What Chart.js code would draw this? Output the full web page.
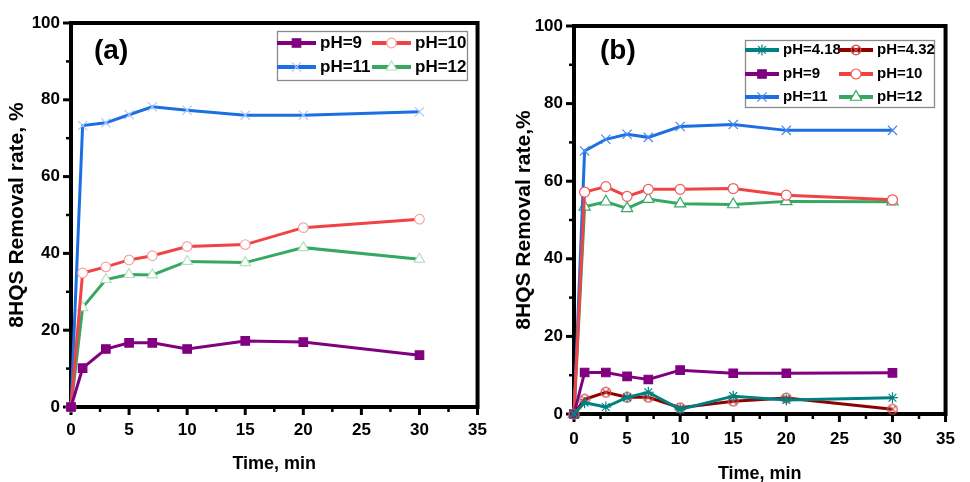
<!DOCTYPE html>
<html>
<head>
<meta charset="utf-8">
<script src="https://cdn.jsdelivr.net/npm/chart.js@4.4.1/dist/chart.umd.min.js"></script>
<style>
  html, body { margin: 0; padding: 0; background: #fff; }
  body { width: 970px; height: 482px; position: relative; overflow: hidden; }
  .panel { position: absolute; top: 0; height: 482px; }
  #wrap-a { left: 0; width: 500px; }
  #wrap-b { left: 485px; width: 485px; }
</style>
</head>
<body>
<div class="panel" id="wrap-a"><canvas id="chart-a" width="500" height="482"></canvas></div>
<div class="panel" id="wrap-b"><canvas id="chart-b" width="485" height="482"></canvas></div>
<script>
"use strict";

// ── Data ───────────────────────────────────────────────────
const times = [0, 1, 3, 5, 7, 10, 15, 20, 30];          // min
const xTickValues = [0, 5, 10, 15, 20, 25, 30, 35];
const yTickValues = [0, 20, 40, 60, 80, 100];

// panel (a)
const ph9A  = [0, 10.1, 15.1, 16.7, 16.7, 15.1, 17.2, 16.9, 13.5];
const ph10A = [0, 34.9, 36.5, 38.3, 39.4, 41.8, 42.3, 46.7, 48.9];
const ph11A = [0, 73.3, 74.0, 76.1, 78.2, 77.3, 76.0, 76.0, 76.9];
const ph12A = [0, 25.9, 33.2, 34.5, 34.4, 37.9, 37.6, 41.5, 38.5];

// panel (b)
const ph418B = [0, 2.9, 1.8, 4.3, 5.6, 1.2, 4.6, 3.6, 4.2];
const ph432B = [0, 3.8, 5.6, 4.3, 4.3, 1.6, 3.3, 4.1, 1.2];
const ph9B   = [0, 10.7, 10.7, 9.7, 8.9, 11.3, 10.5, 10.5, 10.6];
const ph10B  = [0, 57.2, 58.6, 56.1, 57.9, 57.9, 58.1, 56.4, 55.2];
const ph11B  = [0, 67.8, 70.8, 72.1, 71.3, 74.1, 74.6, 73.1, 73.1];
const ph12B  = [0, 53.4, 54.7, 53.0, 55.4, 54.2, 54.0, 54.8, 54.7];

const FONT = '"Liberation Sans", Arial, sans-serif';

// ── Helpers ────────────────────────────────────────────────
/** Small canvas marker: open circle with an x inside (pH=4.32). */
function circleCross(color) {
  const c = document.createElement("canvas");
  c.width = 12; c.height = 12;
  const g = c.getContext("2d");
  g.strokeStyle = color; g.lineWidth = 1.3;
  g.beginPath(); g.arc(6, 6, 4.8, 0, Math.PI * 2); g.stroke();
  g.beginPath();
  g.moveTo(2.6, 2.6); g.lineTo(9.4, 9.4);
  g.moveTo(9.4, 2.6); g.lineTo(2.6, 9.4);
  g.stroke();
  return c;
}

/** One line dataset built from the shared time axis. */
function series(label, values, color, marker) {
  return Object.assign({
    label,
    data: times.map((t, i) => ({ x: t, y: values[i] })),
    borderColor: color,
    backgroundColor: color,
    borderWidth: 3,
    tension: 0,
    clip: false,
    pointBorderWidth: 1.2,
  }, marker);
}

// ── Plugins: frame + ticks, boxed legend + panel tag ───────
const framePlugin = {
  id: "frame",
  beforeDatasetsDraw(chart) {
    const { ctx, chartArea: a, scales } = chart;
    const sx = scales.x, sy = scales.y;
    const seg = (x1, y1, x2, y2) => { ctx.beginPath(); ctx.moveTo(x1, y1); ctx.lineTo(x2, y2); ctx.stroke(); };
    ctx.save();
    ctx.strokeStyle = "#000";
    // major ticks (outward)
    ctx.lineWidth = 3;
    sx.ticks.forEach((t) => { const p = sx.getPixelForValue(t.value); seg(p, a.bottom, p, a.bottom + 8); });
    sy.ticks.forEach((t) => { const p = sy.getPixelForValue(t.value); seg(a.left, p, a.left - 8, p); });
    // minor ticks halfway between majors
    ctx.lineWidth = 2.5;
    sx.ticks.slice(0, -1).forEach((t) => { const p = sx.getPixelForValue(t.value + 2.5); seg(p, a.bottom, p, a.bottom + 5); });
    sy.ticks.slice(0, -1).forEach((t) => { const p = sy.getPixelForValue(t.value + 10); seg(a.left, p, a.left - 5, p); });
    // thick box
    ctx.lineWidth = 4;
    ctx.strokeRect(a.left, a.top, a.right - a.left, a.bottom - a.top);
    ctx.restore();
  },
};

const boxLegendPlugin = {
  id: "boxLegend",
  afterDraw(chart, _args, o) {
    const ctx = chart.ctx;
    ctx.save();
    ctx.strokeStyle = "#8a8a8a";
    ctx.lineWidth = 1.3;
    ctx.strokeRect(o.box[0] + 0.5, o.box[1] + 0.5, o.box[2], o.box[3]);
    chart.data.datasets.forEach((ds, i) => {
      const x0 = o.cols[i % 2], y0 = o.rows[Math.floor(i / 2)];
      ctx.strokeStyle = ds.borderColor;
      ctx.lineWidth = 4;
      ctx.beginPath(); ctx.moveTo(x0, y0); ctx.lineTo(x0 + o.lineLen, y0); ctx.stroke();
      ctx.fillStyle = ds.pointBackgroundColor;
      ctx.strokeStyle = ds.pointBorderColor;
      ctx.lineWidth = ds.pointBorderWidth;
      Chart.helpers.drawPoint(ctx, {
        pointStyle: ds.pointStyle, radius: ds.pointRadius, borderWidth: ds.pointBorderWidth, rotation: 0,
      }, x0 + o.lineLen / 2, y0);
      ctx.fillStyle = "#000";
      ctx.font = o.font;
      ctx.textBaseline = "middle";
      ctx.textAlign = "left";
      ctx.fillText(ds.label, x0 + o.lineLen + o.gap, y0);
    });
    ctx.font = `bold 28px ${FONT}`;
    ctx.textBaseline = "alphabetic";
    ctx.fillStyle = "#000";
    ctx.fillText(o.tag, o.tagPos[0], o.tagPos[1]);
    ctx.restore();
  },
};

/** Scales + layout for one panel; geometry is given in canvas pixels. */
function panelOptions(g) {
  return {
    responsive: false,
    animation: false,
    layout: { padding: { left: 0, top: g.top, right: g.right, bottom: 0 } },
    scales: {
      x: {
        type: "linear", min: 0, max: 35,
        afterBuildTicks: (s) => { s.ticks = xTickValues.map((v) => ({ value: v })); },
        afterFit: (s) => { s.height = g.xHeight; },
        ticks: { color: "#000", font: { family: FONT, size: 17, weight: "bold" }, padding: g.xTickPad, maxRotation: 0 },
        grid: { display: false, drawTicks: false },
        border: { display: false },
        title: {
          display: true, text: "Time, min", color: "#000",
          font: { family: FONT, size: 18, weight: "bold" },
          padding: { top: 0, bottom: g.xTitlePad },
        },
      },
      y: {
        type: "linear", min: 0, max: 100,
        afterBuildTicks: (s) => { s.ticks = yTickValues.map((v) => ({ value: v })); },
        afterFit: (s) => { s.width = g.yWidth; },
        ticks: { color: "#000", font: { family: FONT, size: 17, weight: "bold" }, padding: 11 },
        grid: { display: false, drawTicks: false },
        border: { display: false },
        title: {
          display: true, text: g.yTitle, color: "#000",
          font: { family: FONT, size: 21, weight: "bold" },
          padding: { top: g.yTitlePad, bottom: 0 },
        },
      },
    },
    plugins: {
      legend: { display: false },
      tooltip: { enabled: false },
      boxLegend: g.legend,
    },
  };
}

// ── Panel (a) ──────────────────────────────────────────────
new Chart(document.getElementById("chart-a"), {
  type: "line",
  data: {
    datasets: [
      series("pH=9", ph9A, "#800080", { pointStyle: "rect", pointRadius: 6, pointBackgroundColor: "#800080", pointBorderColor: "#800080" }),
      series("pH=10", ph10A, "#f04343", { pointStyle: "circle", pointRadius: 4.8, pointBackgroundColor: "#fff", pointBorderColor: "#f5a3a3" }),
      series("pH=11", ph11A, "#1c6fe3", { pointStyle: "crossRot", pointRadius: 6.5, pointBackgroundColor: "#aecbf3", pointBorderColor: "#aecbf3" }),
      series("pH=12", ph12A, "#37a862", { pointStyle: "triangle", pointRadius: 6, pointBackgroundColor: "#fff", pointBorderColor: "#b6dfc4" }),
    ],
  },
  options: panelOptions({
    top: 23, right: 19, xHeight: 75, yWidth: 71,
    xTickPad: 13, xTitlePad: 7, yTitlePad: 5,
    yTitle: "8HQS Removal rate, %",
    legend: {
      box: [277, 31, 190, 49], rows: [43, 67], cols: [277, 372],
      lineLen: 39, gap: 4, font: `bold 17px ${FONT}`,
      tag: "(a)", tagPos: [94, 59],
    },
  }),
  plugins: [framePlugin, boxLegendPlugin],
});

// ── Panel (b) ──────────────────────────────────────────────
new Chart(document.getElementById("chart-b"), {
  type: "line",
  data: {
    datasets: [
      series("pH=4.18", ph418B, "#008080", { pointStyle: "star", pointRadius: 5.5, pointBackgroundColor: "#008080", pointBorderColor: "#008080" }),
      series("pH=4.32", ph432B, "#8f0000", { pointStyle: circleCross("#d24a4a"), pointRadius: 6, pointBackgroundColor: "#d24a4a", pointBorderColor: "#d24a4a" }),
      series("pH=9", ph9B, "#800080", { pointStyle: "rect", pointRadius: 6, pointBackgroundColor: "#800080", pointBorderColor: "#800080" }),
      series("pH=10", ph10B, "#f04343", { pointStyle: "circle", pointRadius: 5, pointBackgroundColor: "#fff", pointBorderColor: "#f05a5a" }),
      series("pH=11", ph11B, "#1c6fe3", { pointStyle: "crossRot", pointRadius: 6.5, pointBackgroundColor: "#4a8ae8", pointBorderColor: "#4a8ae8" }),
      series("pH=12", ph12B, "#37a862", { pointStyle: "triangle", pointRadius: 6.5, pointBackgroundColor: "#fff", pointBorderColor: "#3aa865" }),
    ],
  },
  options: panelOptions({
    top: 26, right: 11, xHeight: 68, yWidth: 89,
    xTickPad: 15, xTitlePad: -3, yTitlePad: 27,
    yTitle: "8HQS Removal rate,%",
    legend: {
      box: [260, 40, 189, 67], rows: [50, 74, 97], cols: [260, 354],
      lineLen: 34, gap: 4, font: `bold 15px ${FONT}`,
      tag: "(b)", tagPos: [115, 59],
    },
  }),
  plugins: [framePlugin, boxLegendPlugin],
});
</script>
</body>
</html>
